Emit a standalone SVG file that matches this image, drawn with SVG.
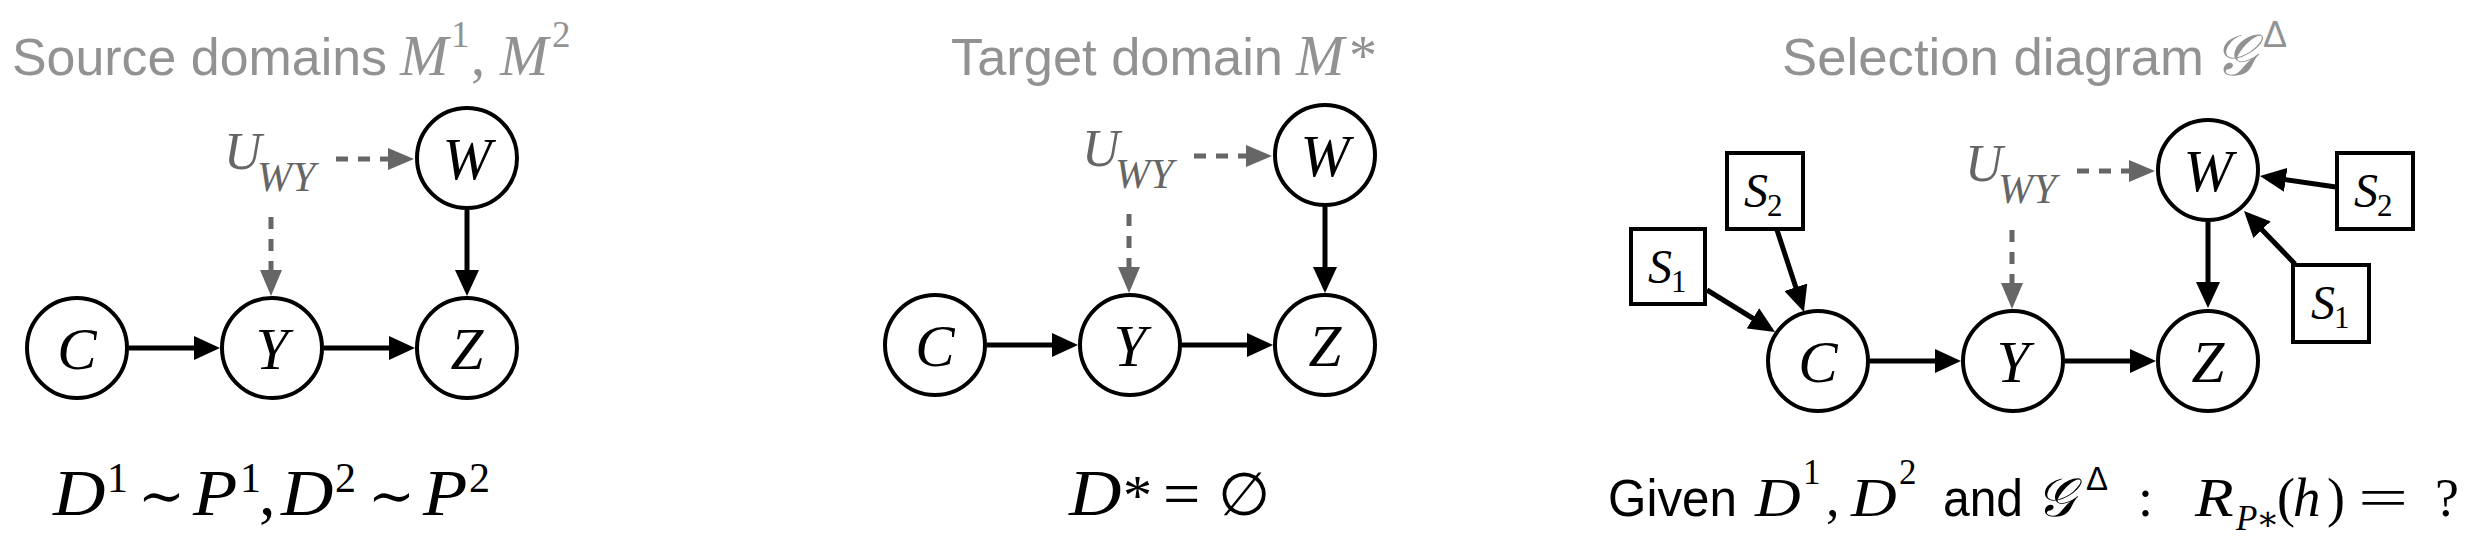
<svg xmlns="http://www.w3.org/2000/svg" width="2484" height="542" viewBox="0 0 2484 542">
<defs>
<style>
.bg{fill:#fff}
.node{fill:#fff;stroke:#000;stroke-width:4}
.box{fill:#fff;stroke:#000;stroke-width:4}
.lbl{font-family:"Liberation Serif","DejaVu Serif",serif;font-style:italic;font-size:59px;fill:#000;text-anchor:middle}
.sl{font-family:"Liberation Serif","DejaVu Serif",serif;font-style:italic;font-size:48px;fill:#000}
.ss{font-family:"Liberation Serif","DejaVu Serif",serif;font-style:normal;font-size:31px;fill:#000}
.title{font-family:"Liberation Sans",Arial,sans-serif;font-size:52px;fill:#929292}
.tm{font-family:"Liberation Serif","DejaVu Serif",serif;font-style:italic;font-size:58px;fill:#929292}
.tsup{font-family:"Liberation Serif","DejaVu Serif",serif;font-size:37px;fill:#929292}
.u{font-family:"Liberation Serif","DejaVu Serif",serif;font-style:italic;fill:#666}
.edge{fill:none;stroke:#000;stroke-width:5}
.dash{fill:none;stroke:#666;stroke-width:5;stroke-dasharray:12 10}
.fm{font-family:"Liberation Serif","DejaVu Serif",serif;fill:#000}
.it{font-style:italic}
.sans{font-family:"Liberation Sans",Arial,sans-serif;fill:#000}
</style>
<marker id="ah" markerUnits="userSpaceOnUse" viewBox="0 0 26 24" markerWidth="26" markerHeight="24" refX="6" refY="12" orient="auto">
<path d="M0,0 L26,12 L0,24 z" fill="#000"/>
</marker>
<marker id="ahg" markerUnits="userSpaceOnUse" viewBox="0 0 26 22" markerWidth="26" markerHeight="22" refX="6" refY="11" orient="auto">
<path d="M0,0 L26,11 L0,22 z" fill="#666"/>
</marker>
</defs>
<rect class="bg" x="0" y="0" width="2484" height="542"/>

<!-- Titles -->
<g id="title1">
<text class="title" x="12" y="75" textLength="375" lengthAdjust="spacingAndGlyphs">Source domains</text>
<text class="tm" x="400" y="75">M</text><text class="tsup" x="451" y="47">1</text>
<text class="tsup" x="471" y="75" style="font-size:56px">,</text>
<text class="tm" x="500" y="75">M</text><text class="tsup" x="552" y="47">2</text>
</g>
<g id="title2">
<text class="title" x="951" y="75" textLength="332" lengthAdjust="spacingAndGlyphs">Target domain</text>
<text class="tm" x="1296" y="75">M</text><text class="tsup" x="1349" y="75" style="font-size:56px">*</text>
</g>
<g id="title3">
<text class="title" x="1782" y="75" textLength="422" lengthAdjust="spacingAndGlyphs">Selection diagram</text>
<text class="tm" x="2214" y="75">𝒢</text><text class="title" x="2263" y="47" style="font-size:36px">Δ</text>
</g>

<!-- Connectors -->
<g id="connectors">
<path class="dash" d="M336,159 H394" marker-end="url(#ahg)"/>
<path class="dash" d="M271,217 V276" marker-end="url(#ahg)"/>
<path class="edge" d="M467,210 V276" marker-end="url(#ah)"/>
<path class="edge" d="M129,348 H200" marker-end="url(#ah)"/>
<path class="edge" d="M324,348 H395" marker-end="url(#ah)"/>

<path class="dash" d="M1194,156 H1252" marker-end="url(#ahg)"/>
<path class="dash" d="M1129,214 V273" marker-end="url(#ahg)"/>
<path class="edge" d="M1325,207 V273" marker-end="url(#ah)"/>
<path class="edge" d="M987,345 H1058" marker-end="url(#ah)"/>
<path class="edge" d="M1182,345 H1253" marker-end="url(#ah)"/>

<path class="dash" d="M2077,171 H2135" marker-end="url(#ahg)"/>
<path class="dash" d="M2012,230 V289" marker-end="url(#ahg)"/>
<path class="edge" d="M2208,222 V288" marker-end="url(#ah)"/>
<path class="edge" d="M1870,361 H1941" marker-end="url(#ah)"/>
<path class="edge" d="M2065,361 H2136" marker-end="url(#ah)"/>
<path class="edge" d="M1777,230 L1797.7,293" marker-end="url(#ah)"/>
<path class="edge" d="M1707,290 L1758,321.5" marker-end="url(#ah)"/>
<path class="edge" d="M2336,187 L2279.8,178.9" marker-end="url(#ah)"/>
<path class="edge" d="M2295,264 L2257.9,225.4" marker-end="url(#ah)"/>
</g>

<!-- Panel 1 nodes -->
<g id="p1-U"><text class="u" x="224" y="169" style="font-size:52px">U</text><text class="u" x="257" y="191" style="font-size:42px">WY</text></g>
<g id="p1-W"><circle class="node" cx="467" cy="158" r="50"/><text class="lbl" x="467" y="179">W</text></g>
<g id="p1-C"><circle class="node" cx="77" cy="348" r="50"/><text class="lbl" x="77" y="369">C</text></g>
<g id="p1-Y"><circle class="node" cx="272" cy="348" r="50"/><text class="lbl" x="272" y="369">Y</text></g>
<g id="p1-Z"><circle class="node" cx="467" cy="348" r="50"/><text class="lbl" x="467" y="369">Z</text></g>

<!-- Panel 2 nodes -->
<g id="p2-U"><text class="u" x="1082" y="166" style="font-size:52px">U</text><text class="u" x="1115" y="188" style="font-size:42px">WY</text></g>
<g id="p2-W"><circle class="node" cx="1325" cy="155" r="50"/><text class="lbl" x="1325" y="176">W</text></g>
<g id="p2-C"><circle class="node" cx="935" cy="345" r="50"/><text class="lbl" x="935" y="366">C</text></g>
<g id="p2-Y"><circle class="node" cx="1130" cy="345" r="50"/><text class="lbl" x="1130" y="366">Y</text></g>
<g id="p2-Z"><circle class="node" cx="1325" cy="345" r="50"/><text class="lbl" x="1325" y="366">Z</text></g>

<!-- Panel 3 nodes -->
<g id="p3-U"><text class="u" x="1965" y="181" style="font-size:52px">U</text><text class="u" x="1998" y="203" style="font-size:42px">WY</text></g>
<g id="p3-W"><circle class="node" cx="2208" cy="170" r="50"/><text class="lbl" x="2208" y="191">W</text></g>
<g id="p3-C"><circle class="node" cx="1818" cy="361" r="50"/><text class="lbl" x="1818" y="382">C</text></g>
<g id="p3-Y"><circle class="node" cx="2013" cy="361" r="50"/><text class="lbl" x="2013" y="382">Y</text></g>
<g id="p3-Z"><circle class="node" cx="2208" cy="361" r="50"/><text class="lbl" x="2208" y="382">Z</text></g>
<g id="p3-S2a"><rect class="box" x="1727" y="153" width="76" height="76"/><text class="sl" x="1744" y="207">S</text><text class="ss" x="1767" y="216">2</text></g>
<g id="p3-S1a"><rect class="box" x="1631" y="229" width="74" height="75"/><text class="sl" x="1648" y="283">S</text><text class="ss" x="1671" y="292">1</text></g>
<g id="p3-S2b"><rect class="box" x="2337" y="153" width="76" height="76"/><text class="sl" x="2354" y="207">S</text><text class="ss" x="2377" y="216">2</text></g>
<g id="p3-S1b"><rect class="box" x="2293" y="265" width="76" height="77"/><text class="sl" x="2311" y="319">S</text><text class="ss" x="2334" y="328">1</text></g>

<!-- Formulas -->
<g id="formula1" class="fm">
<text class="it" x="0" y="0" font-size="66" transform="translate(53,515) scale(1.1,1)">D</text>
<text x="107" y="492" font-size="42">1</text>
<text x="138" y="515" font-size="56">∼</text>
<text class="it" x="0" y="0" font-size="66" transform="translate(193,515) scale(1.1,1)">P</text>
<text x="240" y="492" font-size="42">1</text>
<text x="259" y="515" font-size="66">,</text>
<text class="it" x="0" y="0" font-size="66" transform="translate(281,515) scale(1.1,1)">D</text>
<text x="335" y="492" font-size="42">2</text>
<text x="368" y="515" font-size="56">∼</text>
<text class="it" x="0" y="0" font-size="66" transform="translate(423,515) scale(1.1,1)">P</text>
<text x="469" y="492" font-size="42">2</text>
</g>
<g id="formula2" class="fm">
<text class="it" x="0" y="0" font-size="66" transform="translate(1069,515) scale(1.1,1)">D</text>
<text x="1123" y="515" font-size="58">*</text>
<text x="0" y="0" font-size="63" transform="translate(1163,515) scale(1.05,1)">=</text>
<text x="1218" y="515" font-size="60">∅</text>
</g>
<g id="formula3" class="fm">
<text class="sans" x="1608" y="516" font-size="52" textLength="129" lengthAdjust="spacingAndGlyphs">Given</text>
<text class="it" x="0" y="0" font-size="55" transform="translate(1755,516) scale(1.15,1)">D</text>
<text x="1803" y="484" font-size="35">1</text>
<text x="1826" y="516" font-size="54">,</text>
<text class="it" x="0" y="0" font-size="55" transform="translate(1851,516) scale(1.15,1)">D</text>
<text x="1899" y="484" font-size="35">2</text>
<text class="sans" x="1943" y="516" font-size="52" textLength="80" lengthAdjust="spacingAndGlyphs">and</text>
<text class="it" x="2036" y="516" font-size="54">𝒢</text>
<text class="sans" x="2086" y="490" font-size="33">Δ</text>
<text x="2138" y="516" font-size="54">:</text>
<text class="it" x="0" y="0" font-size="55" transform="translate(2195,516) scale(1.15,1)">R</text>
<text class="it" x="2236" y="530" font-size="35">P</text>
<text x="2256" y="530" font-size="34">∗</text>
<text x="2277" y="516" font-size="54">(</text>
<text class="it" x="2293" y="516" font-size="55">h</text>
<text x="2327" y="516" font-size="54">)</text>
<text x="0" y="0" font-size="54" transform="translate(2358,516) scale(1.65,1)">=</text>
<text x="2435" y="516" font-size="54">?</text>
</g>
</svg>
